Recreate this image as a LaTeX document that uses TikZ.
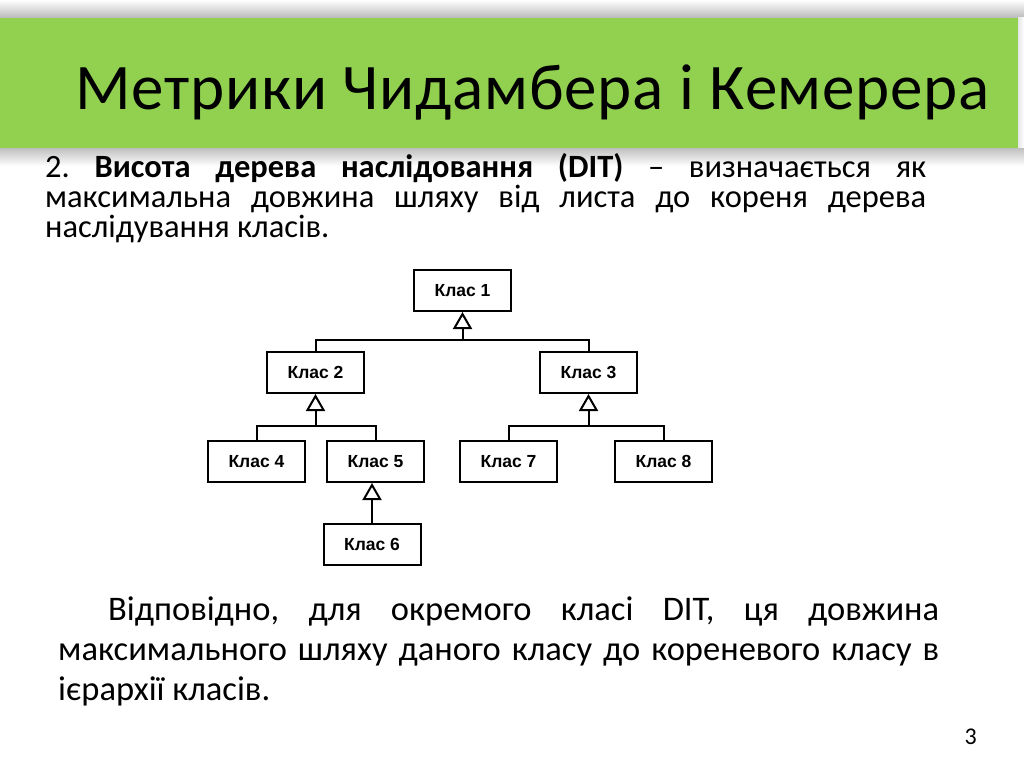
\documentclass[tikz,border=0pt]{standalone}
\usepackage{fontspec}
\setmainfont{Carlito}
\newfontfamily\boxfont{Liberation Sans}
\usetikzlibrary{arrows.meta,positioning}
\definecolor{titleGreen}{RGB}{146,208,80}
\hyphenpenalty=10000
\frenchspacing
\tikzset{
    classBox/.style={
        draw,
        line width=2pt,
        minimum width=97pt,
        minimum height=41pt,
        inner sep=0pt,
        font=\boxfont\bfseries\fontsize{17.5}{19}\selectfont
    },
    treeLine/.style={
        line width=2pt
    },
    inheritArrow/.style={
        -{Triangle[open,length=17pt,width=19pt]},
        line width=2pt
    },
    bodyText/.style={
        anchor=base west,
        inner sep=0pt,
        text width=881pt,
        align=justify
    }
}

\begin{document}
\begin{tikzpicture}[x=1pt,y=-1pt]
    \useasboundingbox (0,0) rectangle (1024,767);
    \shade[top color=white,bottom color=gray!55] (0,0) rectangle (1024,18);
    \shade[top color=gray!50,bottom color=white] (0,148) rectangle (1024,166);
    \fill[titleGreen] (0,18) rectangle (1018,148);
    \shade[left color=gray!20,right color=white] (1018,18) rectangle (1024,148);

    \node[anchor=base west,inner sep=0pt,font=\fontsize{65}{70}\selectfont\addfontfeature{LetterSpace=1.2}] (title) at (75,110) {Метрики Чидамбера і Кемерера};

    \node[bodyText,font=\fontsize{32.5}{30}\selectfont] (intro) at (45,178) {2. \textbf{Висота дерева наслідовання (DIT)} – визначається як\linebreak максимальна довжина шляху від листа до кореня дерева\linebreak наслідування класів.};

    \node[classBox] (k1) at (462.5,290.5) {Клас 1};
    \node[classBox,below left=39pt and 48pt of k1] (k2) {Клас 2};
    \node[classBox,below right=39pt and 27pt of k1] (k3) {Клас 3};
    \node[classBox,below=46pt of k2,xshift=-59pt] (k4) {Клас 4};
    \node[classBox,below=46pt of k2,xshift=60pt] (k5) {Клас 5};
    \node[classBox,below=46pt of k3,xshift=-80pt] (k7) {Клас 7};
    \node[classBox,below=46pt of k3,xshift=75pt] (k8) {Клас 8};
    \node[classBox,below=40pt of k5,xshift=-3.5pt] (k6) {Клас 6};

    \coordinate (j1) at ([yshift=-28pt]k1.south);
    \coordinate (j2) at ([yshift=-32pt]k2.south);
    \coordinate (j3) at ([yshift=-32pt]k3.south);

    \draw[treeLine] (k2) |- (j1) -| (k3);
    \draw[inheritArrow] (j1) -- (k1);
    \draw[treeLine] (k4) |- (j2) -| (k5);
    \draw[inheritArrow] (j2) -- (k2);
    \draw[treeLine] (k7) |- (j3) -| (k8);
    \draw[inheritArrow] (j3) -- (k3);
    \draw[inheritArrow] (k6) -- (k6 |- k5.south);

    \node[bodyText,font=\fontsize{34.5}{40}\selectfont] (summary) at (58,620) {\hspace*{50pt}Відповідно, для окремого класі DIT, ця довжина\linebreak максимального шляху даного класу до кореневого класу в\linebreak ієрархії класів.};

    \node[anchor=base east,inner sep=0pt,font=\fontsize{24}{26}\selectfont] (page) at (977,744) {3};
\end{tikzpicture}
\end{document}
